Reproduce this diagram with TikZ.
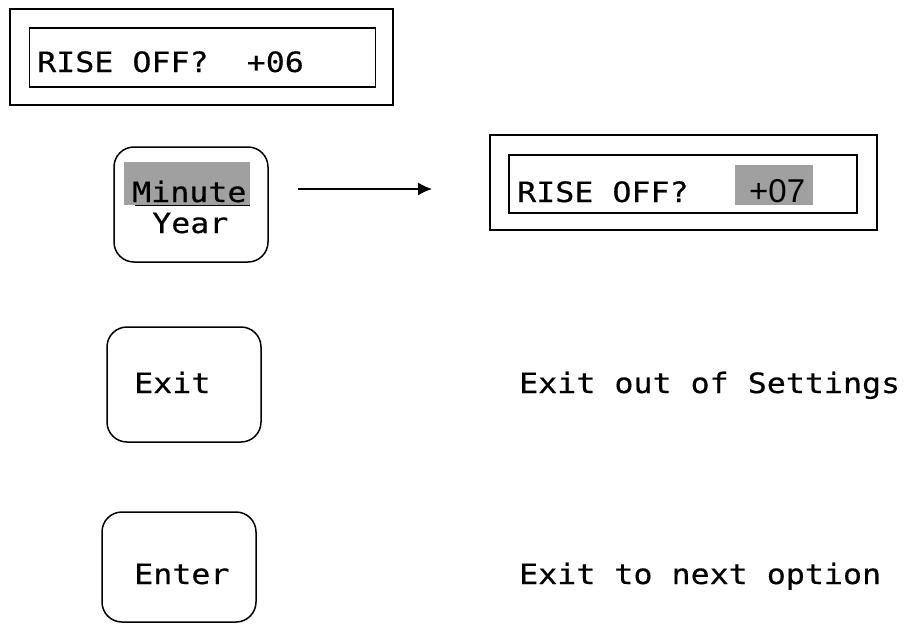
\documentclass[tikz,border=0pt]{standalone}
\usepackage{fontspec}
\usetikzlibrary{arrows.meta}
\newfontfamily\keyfont[FakeStretch=1.13, FakeBold=0.4]{DejaVu Sans Mono}
\newfontfamily\valfont{Liberation Sans}
\definecolor{hilite}{RGB}{160,160,160}
\tikzset{
  frame/.style={draw=black, line width=1.6pt, fill=none, inner sep=0pt},
  lcdbox/.style={draw=black, line width=1.2pt, fill=none, inner sep=0pt},
  keybox/.style={draw=black, line width=1.5pt, rounded corners=20pt, inner sep=0pt},
  label/.style={inner sep=0pt, anchor=base west, font=\keyfont\fontsize{28}{30}\selectfont},
  value/.style={inner sep=0pt, anchor=base west, font=\valfont\fontsize{33}{35}\selectfont},
  mark box/.style={fill=hilite, draw=none},
}
\begin{document}
\begin{tikzpicture}[x=1pt, y=-1pt]
\useasboundingbox (0,0) rectangle (906,624);

% first display: current offset
\node[frame, minimum width=383pt, minimum height=96pt] (disp1) at (201.5,57) {};
\node[lcdbox, minimum width=346pt, minimum height=59pt] (lcd1) at (202.5,57.5) {};
\node[label] (txt1) at (37,72) {RISE OFF?\ \ +06};

% Minute / Year key
\node[keybox, minimum width=154pt, minimum height=115pt] (minkey) at (191,204.5) {};
\fill[mark box] (124,162) rectangle (250,205);
\node[label] (minute) at (132,202) {Minute};
\node[label] (year) at (152,233) {Year};
\draw[line width=1.5pt] (135,205.5) -- (250,205.5);

% second display: offset after pressing the key
\node[frame, minimum width=387pt, minimum height=95pt] (disp2) at (683.5,182.5) {};
\node[lcdbox, minimum width=348pt, minimum height=58pt] (lcd2) at (683,184) {};
\fill[mark box] (735,165) rectangle (813,205);
\node[label] (txt2) at (517,202) {RISE OFF?};
\node[value] (val2) at (749,202) {+07};

% arrow from key to new display
\coordinate (arrA) at (298,189);
\coordinate (arrB) at (432,189);
\draw[line width=1.3pt, -{Latex[length=14pt,width=13pt]}] (arrA) -- (arrB);

% Exit key
\node[keybox, minimum width=154pt, minimum height=115pt] (exitkey) at (184,384.5) {};
\node[label] (exittxt) at (134,393) {Exit};
\node[label] (exitdesc) at (519,393) {Exit out of Settings};

% Enter key
\node[keybox, minimum width=154pt, minimum height=110pt] (enterkey) at (179,567) {};
\node[label] (entertxt) at (134,584) {Enter};
\node[label] (enterdesc) at (519,584) {Exit to next option};
\end{tikzpicture}
\end{document}
